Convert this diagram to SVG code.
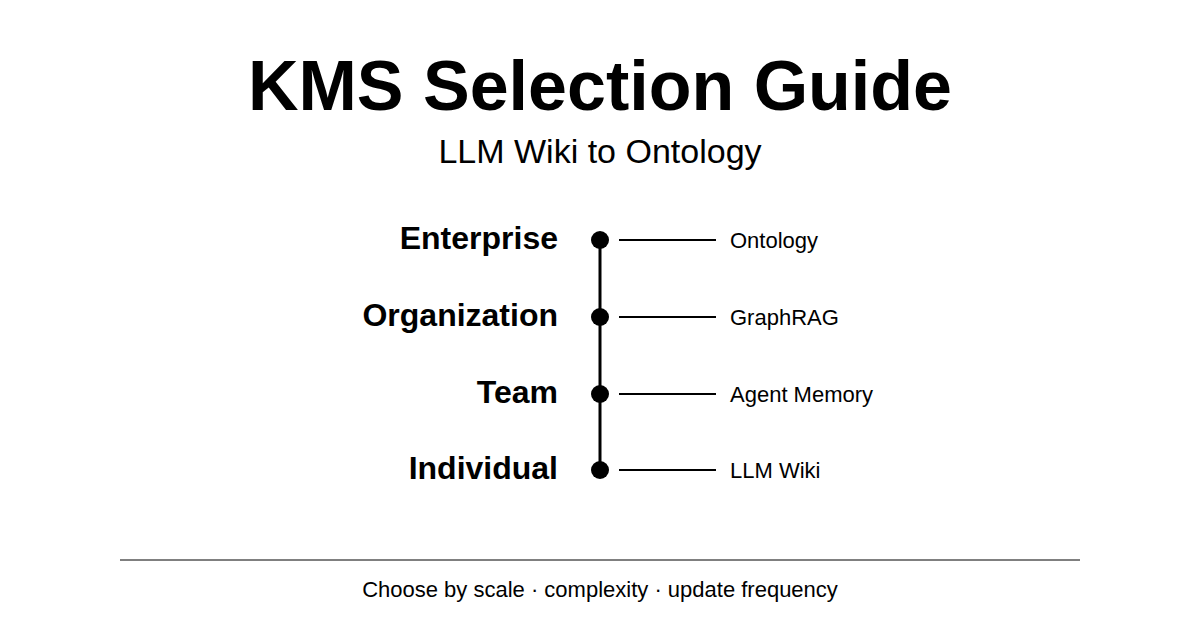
<svg xmlns="http://www.w3.org/2000/svg" width="1200" height="630" viewBox="0 0 1200 630">
<style>
text{font-family:"Liberation Sans",Arial,sans-serif;fill:#000}
.lvl{font-size:32px;font-weight:bold;text-anchor:end}
.item{font-size:22px}
.dot{fill:#000}
.tick{stroke:#000;stroke-width:2}
</style>
<rect width="1200" height="630" fill="#fff"/>
<text x="600" y="110" font-size="70" font-weight="bold" text-anchor="middle">KMS Selection Guide</text>
<text x="600" y="163" font-size="34" text-anchor="middle">LLM Wiki to Ontology</text>
<g id="connectors">
<line x1="600" y1="240" x2="600" y2="470" stroke="#000" stroke-width="3"/>
<line class="tick" x1="619" y1="240" x2="716" y2="240"/>
<line class="tick" x1="619" y1="317" x2="716" y2="317"/>
<line class="tick" x1="619" y1="394" x2="716" y2="394"/>
<line class="tick" x1="619" y1="470" x2="716" y2="470"/>
</g>
<g id="enterprise"><text class="lvl" x="558" y="249">Enterprise</text><circle class="dot" cx="600" cy="240" r="9"/><text class="item" x="730" y="248">Ontology</text></g>
<g id="organization"><text class="lvl" x="558" y="326">Organization</text><circle class="dot" cx="600" cy="317" r="9"/><text class="item" x="730" y="325">GraphRAG</text></g>
<g id="team"><text class="lvl" x="558" y="403">Team</text><circle class="dot" cx="600" cy="394" r="9"/><text class="item" x="730" y="402">Agent Memory</text></g>
<g id="individual"><text class="lvl" x="558" y="479">Individual</text><circle class="dot" cx="600" cy="470" r="9"/><text class="item" x="730" y="478">LLM Wiki</text></g>
<line x1="120" y1="560" x2="1080" y2="560" stroke="#000" stroke-width="1"/>
<text x="600" y="597" font-size="22" text-anchor="middle">Choose by scale · complexity · update frequency</text>
</svg>
